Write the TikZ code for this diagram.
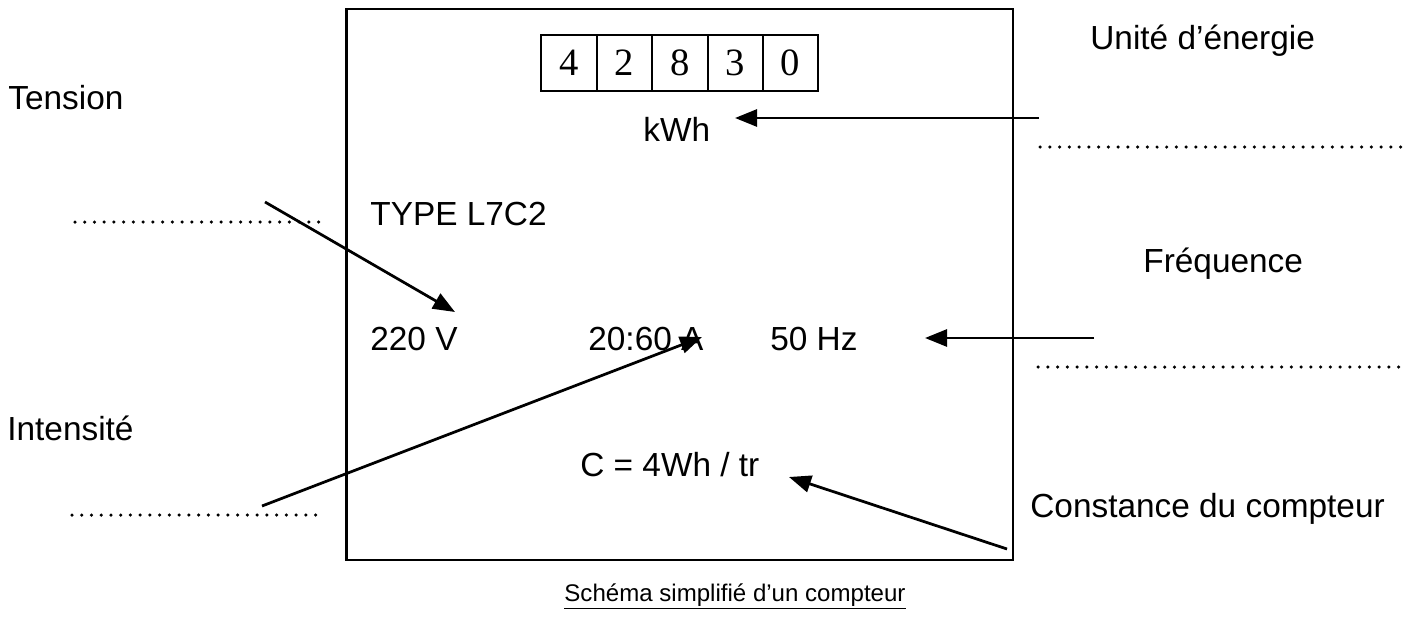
\documentclass[tikz,border=0pt]{standalone}
\usepackage{fontspec}
\setmainfont{Liberation Sans}
\newfontfamily\digitfont{Liberation Serif}
\usetikzlibrary{arrows.meta}
\begin{document}
\begin{tikzpicture}[x=0.02cm,y=-0.02cm,
  lbl/.style={inner sep=0pt,anchor=base west,font=\fontsize{19}{23}\selectfont},
  cell/.style={draw,line width=0.04cm,minimum width=1.108cm,minimum height=1.12cm,inner sep=0pt,font=\digitfont\fontsize{22}{26}\selectfont},
  dots/.style={line width=0.07cm,line cap=round,dash pattern=on 0pt off 0.195cm},
  pointer/.style={line width=0.055cm,-{Triangle[length=0.44cm,width=0.34cm]}},
  frame/.style={draw,line width=0.05cm}]
\useasboundingbox (0,0) rectangle (1422,635);
% meter frame
\node[frame,inner sep=0pt,minimum width=13.34cm,minimum height=11.02cm,anchor=north west] (box) at (345,8) {};
% counter digits
\node[cell] (d1) at (569,63) {4};
\node[cell] (d2) at (624.4,63) {2};
\node[cell] (d3) at (679.8,63) {8};
\node[cell] (d4) at (735.2,63) {3};
\node[cell] (d5) at (790.6,63) {0};
% texts inside
\node[lbl] (kwh) at (643,141) {kWh};
\node[lbl] (type) at (370,225) {TYPE L7C2};
\node[lbl] (volt) at (370,350) {220 V};
\node[lbl] (amp) at (588,350) {20:60 A};
\node[lbl] (hz) at (770,350) {50 Hz};
\node[lbl] (cst) at (580,476) {C = 4Wh / tr};
% texts outside
\node[lbl] (tension) at (8,110) {Tension};
\node[lbl] (intens) at (7,440) {Intensité};
\node[lbl] (unite) at (1090,50) {Unité d’énergie};
\node[lbl] (freq) at (1143,272) {Fréquence};
\node[lbl] (const) at (1030,517) {Constance du compteur};
\node[inner sep=0pt,anchor=base,font=\fontsize{13.7}{16}\selectfont] (cap) at (735,601) {\underline{Schéma simplifié d’un compteur}};
% dotted answer lines
\coordinate (t1) at (75,222); \coordinate (t2) at (327,222);
\coordinate (i1) at (72,515); \coordinate (i2) at (325,515);
\coordinate (e1) at (1040,147); \coordinate (e2) at (1408,147);
\coordinate (f1) at (1038,367); \coordinate (f2) at (1408,367);
\draw[dots] (t1) -- (t2);
\draw[dots] (i1) -- (i2);
\draw[dots] (e1) -- (e2);
\draw[dots] (f1) -- (f2);
% arrows
\coordinate (ta) at (265,202); \coordinate (tb) at (455,312);
\coordinate (ia) at (262,506); \coordinate (ib) at (702,337);
\coordinate (ea) at (1039,118); \coordinate (eb) at (735,118);
\coordinate (fa) at (1094,338); \coordinate (fb) at (925,338);
\coordinate (ca) at (1007,549); \coordinate (cb) at (789,477);
\draw[pointer] (ta) -- (tb);
\draw[pointer] (ia) -- (ib);
\draw[pointer] (ea) -- (eb);
\draw[pointer] (fa) -- (fb);
\draw[pointer] (ca) -- (cb);
\end{tikzpicture}
\end{document}
